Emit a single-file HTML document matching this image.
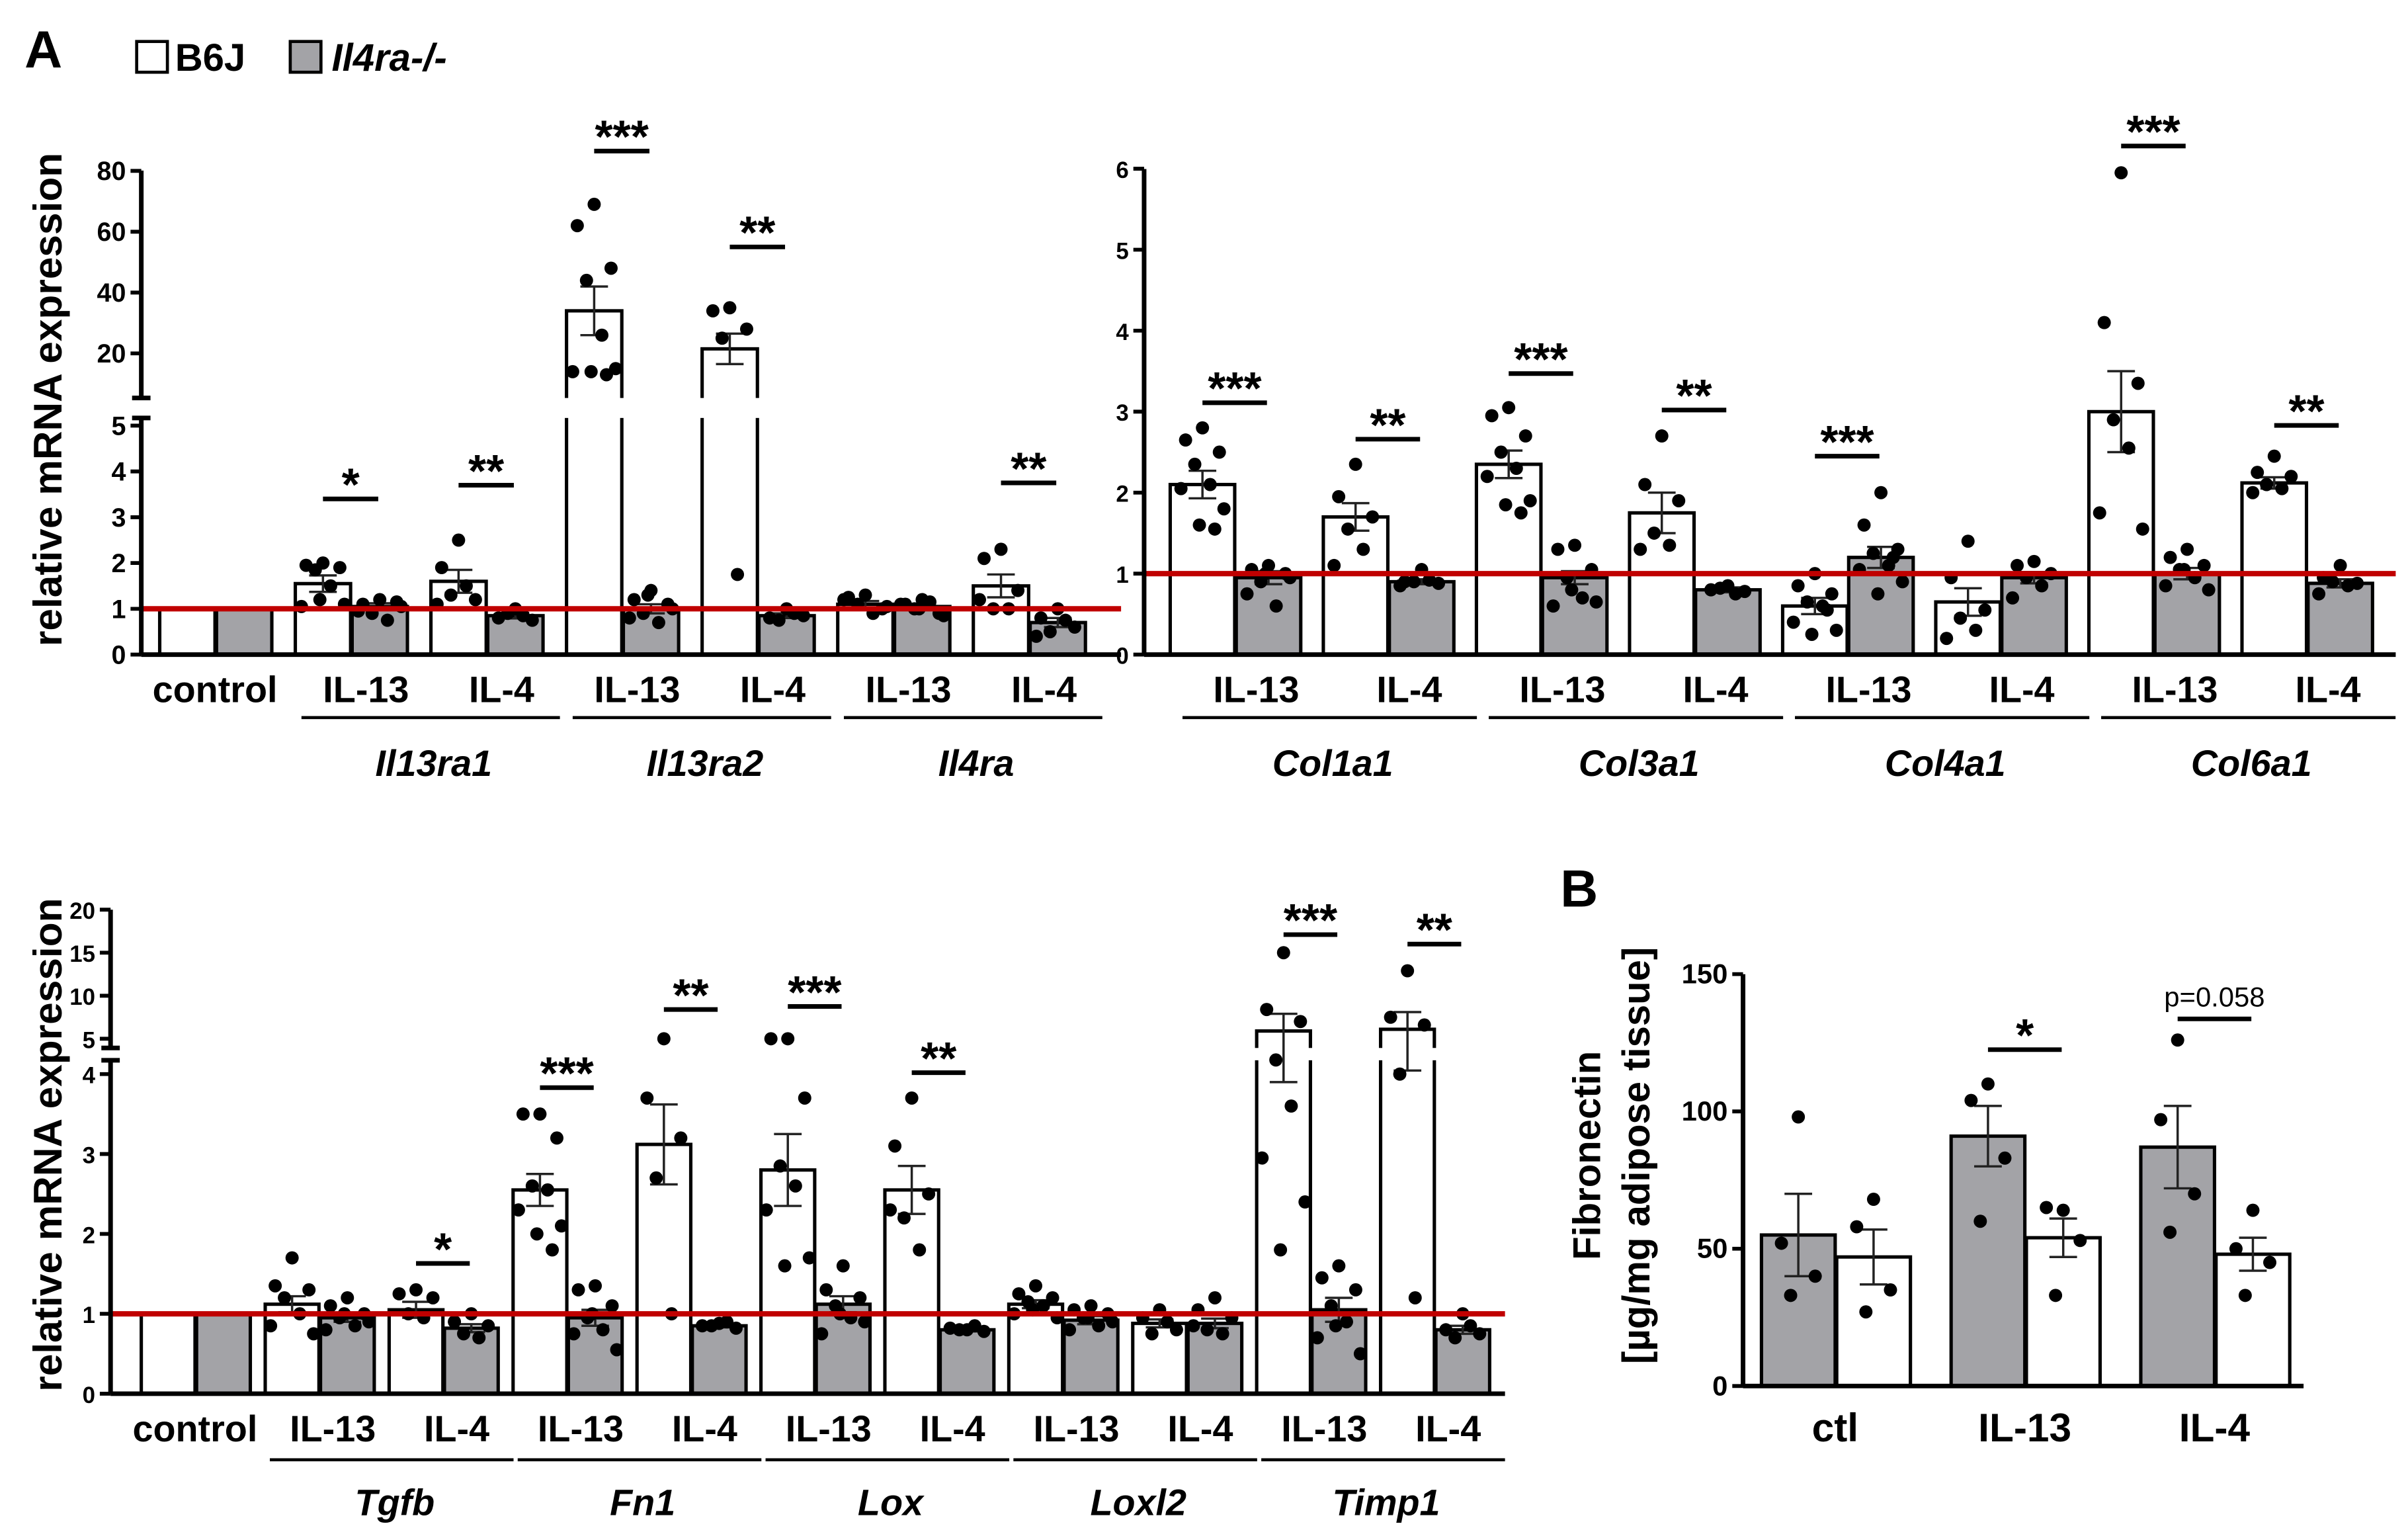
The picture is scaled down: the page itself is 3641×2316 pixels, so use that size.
<!DOCTYPE html>
<html><head><meta charset="utf-8"><style>
html,body{margin:0;padding:0;background:#fff;}
svg{display:block;font-family:"Liberation Sans",Arial,sans-serif;}
</style></head><body>
<svg id="fig" width="3641" height="2316" viewBox="0 0 1568 997" preserveAspectRatio="none" xmlns="http://www.w3.org/2000/svg">
<rect width="1568" height="997" fill="#fff"/>
<text x="16" y="44" font-size="34" font-weight="bold">A</text>
<text x="1016" y="590" font-size="34" font-weight="bold">B</text>
<g>
<rect x="89" y="27" width="20" height="20" fill="#fff" stroke="#000" stroke-width="2"/>
<text x="114" y="46" font-size="25" font-weight="bold">B6J</text>
<rect x="189" y="27" width="20" height="20" fill="#a3a3a7" stroke="#000" stroke-width="2"/>
<text x="216" y="46" font-size="25" font-weight="bold" font-style="italic">Il4ra-/-</text>
</g>
<g id="plots"></g>
</svg>
<script>
// ---------- DATA ----------
// Panel A top-left
const tlGenes = ["Il13ra1","Il13ra2","Il4ra"];
const tlWhite = [1, 1.55, 1.6, 34, 21.5, 1.1, 1.5];
const tlGray  = [1, 1.05, 0.85, 1.0, 0.85, 1.05, 0.7];
const tlWhiteErr = [0, 0.18, 0.25, 8, 5, 0.07, 0.25];
const tlGrayErr  = [0, 0.07, 0.06, 0.1, 0.05, 0.06, 0.1];
const tlWhiteDots = [[],[2.0,1.95,1.9,1.85,1.5,1.05,1.1,1.2],[2.5,1.9,1.2,1.3,1.5,1.1],[69,62,48,44,26,14,15,14,13],[35,34,28,25,1.75],[1.3,1.25,1.0,1.1,0.9,1.2,1.05],[2.3,2.1,1.4,1.0,1.0,1.2]];
const tlGrayDots  = [[],[1.2,1.1,1.15,0.9,0.75,0.95,1.05],[1.0,0.8,0.75,0.9,0.85],[1.4,1.2,1.1,0.9,0.7,0.8,1.0,1.3],[1.0,0.8,0.85,0.75,0.9],[1.2,1.1,0.9,1.0,1.15,1.1,0.85,1.0],[1.0,0.8,0.6,0.5,0.75,0.4]];
const tlSig = [[1,3.4,"*"],[2,3.7,"**"],[3,86.5,"***"],[4,55,"**"],[6,3.75,"**"]];
const tlTicksLow = [0,1,2,3,4,5];
const tlTicksHigh = [20,40,60,80];
// Panel A top-right
const trGenes = ["Col1a1","Col3a1","Col4a1","Col6a1"];
const trWhite = [2.1,1.7,2.35,1.75,0.6,0.65,3.0,2.12];
const trGray  = [0.95,0.9,0.95,0.8,1.2,0.95,1.0,0.88];
const trWhiteErr = [0.17,0.17,0.17,0.25,0.1,0.17,0.5,0.07];
const trGrayErr  = [0.08,0.03,0.08,0.03,0.13,0.07,0.07,0.05];
const trWhiteDots = [[2.8,2.65,2.5,2.35,2.1,2.05,1.8,1.6,1.55],[2.35,1.95,1.7,1.55,1.3,1.1],[3.05,2.95,2.7,2.5,2.3,2.2,1.9,1.85,1.75],[2.7,2.1,1.9,1.5,1.35,1.3],[1.0,0.85,0.75,0.65,0.6,0.4,0.3,0.25,0.55],[1.4,0.95,0.55,0.45,0.3,0.2],[5.95,4.1,3.35,2.9,2.55,1.75,1.55],[2.45,2.25,2.2,2.1,2.05,2.0]];
const trGrayDots  = [[1.1,1.05,1.0,0.9,0.6,0.75,0.95,1.0],[1.05,0.9,0.88,0.9,0.92,0.85],[1.35,1.3,1.05,0.95,0.7,0.6,0.65,0.8],[0.85,0.8,0.78,0.82,0.75],[2.0,1.6,1.3,1.25,1.1,1.05,0.9,0.75,1.2],[1.15,1.1,1.0,0.95,0.85,0.7],[1.3,1.2,1.1,1.05,0.95,0.85,0.8,1.05],[1.1,0.95,0.88,0.9,0.85,0.75]];
const trSig = [[0,3.11,"***"],[1,2.66,"**"],[2,3.47,"***"],[3,3.02,"**"],[4,2.45,"***"],[6,6.28,"***"],[7,2.83,"**"]];
const trTicks = [0,1,2,3,4,5,6];
// Panel A bottom
const btGenes = ["Tgfb","Fn1","Lox","Loxl2","Timp1"];
const btWhite = [1,1.12,1.05,2.55,3.12,2.8,2.55,1.12,0.88,5.9,6.1];
const btGray  = [1,0.95,0.82,0.95,0.85,1.12,0.8,0.92,0.88,1.05,0.8];
const btWhiteErr = [0,0.1,0.1,0.2,0.5,0.45,0.3,0.05,0.05,2,2];
const btGrayErr  = [0,0.05,0.05,0.1,0.02,0.1,0.02,0.05,0.06,0.15,0.05];
const btWhiteDots = [[],[1.7,1.35,1.3,1.2,1.0,0.85,0.75],[1.3,1.25,1.2,1.0,0.95],[3.5,3.5,3.2,2.6,2.55,2.3,2.1,2.0,1.8],[5.0,3.7,3.2,2.7,1.0],[5.0,5.0,3.7,2.85,2.6,2.3,1.7,1.6],[3.7,3.1,2.5,2.2,1.8,2.3],[1.35,1.25,1.2,1.15,1.1,1.0,0.95,1.05],[1.05,0.95,0.8,0.75,0.9],[15,8.4,7,4.4,3.6,2.95,2.4,1.8],[12.9,7.5,6.6,4.0,1.2]];
const btGrayDots  = [[],[1.2,1.1,1.0,0.95,0.85,0.8,0.9,1.0],[1.0,0.9,0.85,0.75,0.7],[1.35,1.3,1.1,0.95,0.8,0.75,0.55,1.0],[0.88,0.85,0.82,0.85,0.9],[1.6,1.3,1.2,1.1,0.95,0.75,0.9,1.0],[0.8,0.82,0.78,0.8,0.85],[1.1,1.05,1.0,0.95,0.85,0.8,0.9,0.95],[1.2,1.05,0.95,0.8,0.75,0.85],[1.6,1.45,1.3,1.1,0.9,0.7,0.5,0.85],[1.0,0.8,0.75,0.7,0.85]];
const btSig = [[2,1.63,"*"],[3,3.83,"***"],[4,8.4,"**"],[5,8.75,"***"],[6,4.04,"**"],[9,17.1,"***"],[10,16,"**"]];
const btTicksLow = [0,1,2,3,4];
const btTicksHigh = [5,10,15,20];
// Panel B
const bCats = ["ctl","IL-13","IL-4"];
const bGray = [55,91,87];
const bWhite = [47,54,48];
const bGrayErr = [15,11,15];
const bWhiteErr = [10,7,6];
const bGrayDots = [[98,52,40,33],[110,104,83,60],[126,97,70,56]];
const bWhiteDots = [[68,58,35,27],[64,65,53,33],[64,50,45,33]];
const bSig = [[1,122.5,"*"],[2,133.7,"p=0.058"]];
const bTicks = [0,50,100,150];

// ---------- DRAW ----------
const NS="http://www.w3.org/2000/svg";
const root=document.getElementById('plots');
const GRAY="#a3a3a7";
function mk(tag,attrs,parent,text){const e=document.createElementNS(NS,tag);for(const k in attrs)e.setAttribute(k,attrs[k]);if(text!==undefined)e.textContent=text;(parent||root).appendChild(e);return e;}
const jit=[0,-11,11,-5,5,-14,14,-2,8];
function drawBar(g,x,w,y0,yv,fill,nm){const r=mk('rect',{x:x,y:Math.min(y0,yv),width:w,height:Math.abs(y0-yv),fill:fill,stroke:'#000','stroke-width':2.2},g);

}
function drawErr(g,cx,ys,yt,yb){const e=mk('path',{d:`M${cx} ${yt}V${yb}M${cx-9} ${yt}H${cx+9}M${cx-9} ${yb}H${cx+9}`,stroke:'#222','stroke-width':1.5,fill:'none'},g);

}
function drawDots(g,cx,vals,ys){vals.forEach((v,i)=>{const c=mk('circle',{cx:cx+jit[i%jit.length],cy:ys(v),r:4.3,fill:'#000'},g);

});}
function drawSig(g,x1,x2,y,t,small){const l=mk('line',{x1:x1,x2:x2,y1:y,y2:y,stroke:'#000','stroke-width':3},g);


const tx=mk('text',{x:(x1+x2)/2,y:small?y-8:y+1,'text-anchor':'middle','font-size':small?18:30,'font-weight':small?'normal':'bold'},g,t);

}

function panel(o){
  const g=mk('g',{});
  
  
  const ys=o.ys, y0=ys(0);
  const n=o.white.length;
  for(let i=0;i<n;i++){
    const x=o.x0+i*o.step;
    const wx=x, gx=x+o.bw+1;
    const wy=ys(o.white[i]), gy=ys(o.gray[i]);
    const first=o.order==='gw';
    const xa=first?gx:wx, xb=first?wx:gx;
    drawBar(g,xa,o.bw,y0,wy,'#fff','bar-b6j-'+i);
    drawBar(g,xb,o.bw,y0,gy,GRAY,'bar-il4ra-'+i);
    if(o.breakY){
      mk('rect',{x:Math.min(xa,xb)-2,y:o.breakY[0],width:o.bw*2+6,height:o.breakY[1]-o.breakY[0],fill:'#fff'},g);
    }
    if(o.whiteErr[i]>0){drawErr(g,xa+o.bw/2,ys,ys(o.white[i]+o.whiteErr[i]),ys(o.white[i]-o.whiteErr[i]));}
    if(o.grayErr[i]>0){drawErr(g,xb+o.bw/2,ys,ys(o.gray[i]+o.grayErr[i]),ys(o.gray[i]-o.grayErr[i]));}
    drawDots(g,xa+o.bw/2,o.whiteDots[i],ys);
    drawDots(g,xb+o.bw/2,o.grayDots[i],ys);
  }
  o.sig.forEach(s=>{const x=o.x0+s[0]*o.step;drawSig(g,x+o.bw*0.5,x+o.bw*1.5,ys(s[1]),s[2],s[2].length>3);});
  if(o.red){const r=mk('line',{x1:o.ax,x2:o.xEnd,y1:ys(1),y2:ys(1),stroke:'#c00000','stroke-width':3.5},g);
    
    }
  const xa=mk('line',{x1:o.ax,x2:o.xEnd,y1:y0,y2:y0,stroke:'#000','stroke-width':3},g);
  
  
  let d;
  if(o.breakY){d=`M${o.ax} ${y0}V${o.breakY[1]}M${o.ax} ${o.breakY[0]}V${o.yTop}M${o.ax-6} ${o.breakY[0]}H${o.ax+6}M${o.ax-6} ${o.breakY[1]}H${o.ax+6}`;}
  else d=`M${o.ax} ${y0}V${o.yTop}`;
  const ya=mk('path',{d:d,stroke:'#000','stroke-width':3,fill:'none'},g);
  
  
  o.ticks.forEach(t=>{const y=ys(t);mk('line',{x1:o.ax-7,x2:o.ax,y1:y,y2:y,stroke:'#000','stroke-width':2.5},g);
    const tl=mk('text',{x:o.ax-10,y:y+6,'text-anchor':'end','font-size':o.tfs||17,'font-weight':'bold'},g,String(t));
    
    });
  return g;
}
const tlY=v=>v<=5?426-v*29.8:230-(v-20)*1.98;
const trY=v=>426-v*52.7;
const btY=v=>v<=4?907-v*52:(v<=5?699-(v-4)*23:676-(v-5)*5.6);
const bY=v=>902-v*1.787;

panel({name:'panel-a-top-left',white:tlWhite,gray:tlGray,whiteErr:tlWhiteErr,grayErr:tlGrayErr,whiteDots:tlWhiteDots,grayDots:tlGrayDots,sig:tlSig,x0:104,step:88.3,bw:36,ys:tlY,ax:92,xEnd:730,yTop:111,breakY:[259,272],ticks:tlTicksLow.concat(tlTicksHigh),red:true});
panel({name:'panel-a-top-right',white:trWhite,gray:trGray,whiteErr:trWhiteErr,grayErr:trGrayErr,whiteDots:trWhiteDots,grayDots:trGrayDots,sig:trSig,x0:762,step:99.7,bw:42,ys:trY,ax:745,xEnd:1560,yTop:110,ticks:trTicks,red:true,tfs:15});
panel({name:'panel-a-bottom',white:btWhite,gray:btGray,whiteErr:btWhiteErr,grayErr:btGrayErr,whiteDots:btWhiteDots,grayDots:btGrayDots,sig:btSig,x0:92,step:80.7,bw:35,ys:btY,ax:72,xEnd:980,yTop:592,breakY:[682,690],ticks:btTicksLow.concat(btTicksHigh),red:true,tfs:15});
panel({name:'panel-b',white:bWhite,gray:bGray,whiteErr:bWhiteErr,grayErr:bGrayErr,whiteDots:bWhiteDots,grayDots:bGrayDots,sig:bSig,x0:1147,step:123.5,bw:48,ys:bY,ax:1135,xEnd:1500,yTop:634,ticks:bTicks,order:'gw',tfs:18});

function xlabel(x,y,t,fs,it,nm){const e=mk('text',{x:x,y:y,'text-anchor':'middle','font-size':fs,'font-weight':'bold','font-style':it?'italic':'normal'},root,t);

}
function genes(list,x0,step,bw,yLab,yLine,yGene,firstCtrl,off){
  if(firstCtrl) xlabel(x0+bw,yLab,'control',24,false,'x-label-control');
  list.forEach((gname,k)=>{
    const i1=(firstCtrl?1:0)+k*2, i2=i1+1;
    const c1=x0+i1*step+bw+off, c2=x0+i2*step+bw+off;
    xlabel(c1,yLab,'IL-13',24,false,'x-label-il13');
    xlabel(c2,yLab,'IL-4',24,false,'x-label-il4');
    const l=mk('line',{x1:c1-bw-6,x2:c2+bw+2,y1:yLine,y2:yLine,stroke:'#000','stroke-width':2});
    
    
    xlabel((c1+c2)/2,yGene,gname,24,true,'gene-label-'+gname.toLowerCase());
  });
}
genes(tlGenes,104,88.3,36,457,467,505,true,10);
genes(trGenes,762,99.7,42,457,467,505,false,14);
genes(btGenes,92,80.7,35,938,950,986,true,9);
bCats.forEach((c,i)=>xlabel(1147+i*123.5+48,938,c,26,false,'x-label-'+c.toLowerCase()));

function ytitle(x,y,t,fs,nm){const e=mk('text',{x:x,y:y,'text-anchor':'middle','font-size':fs,'font-weight':'bold',transform:`rotate(-90 ${x} ${y})`},root,t);

}
ytitle(40,260,'relative mRNA expression',26,'y-axis-title-top');
ytitle(40,745,'relative mRNA expression',26,'y-axis-title-bottom');
ytitle(1042,752,'Fibronectin',25,'y-axis-title-b-line1');
ytitle(1074,752,'[µg/mg adipose tissue]',25,'y-axis-title-b-line2');
</script>
</body></html>
